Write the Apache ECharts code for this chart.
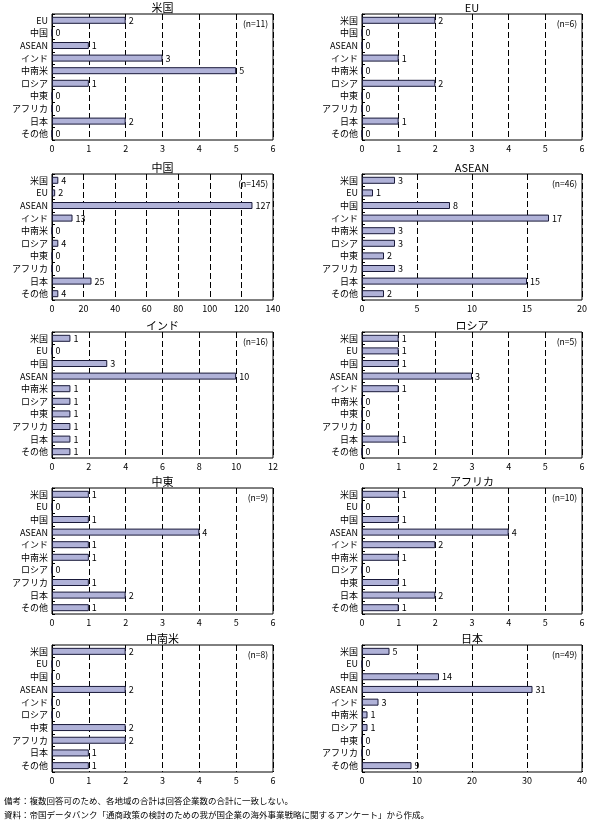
<!DOCTYPE html>
<html><head><meta charset="utf-8">
<script src="https://cdn.jsdelivr.net/npm/echarts@6/dist/echarts.min.js"></script>
<style>html,body{margin:0;padding:0;background:#fff}#c{width:593px;height:821px}</style>
</head><body><div id="c"></div>
<script>
const regions = ['米国','EU','中国','ASEAN','インド','中南米','ロシア','中東','アフリカ','日本','その他'];
const panelTitles = ['米国','EU','中国','ASEAN','インド','ロシア','中東','アフリカ','中南米','日本'];
const panelN = [11,6,145,46,16,5,9,10,8,49];
const axisMax = [6,6,140,20,12,6,6,6,6,40];
const axisStep = [1,1,20,5,2,1,1,1,1,10];
// values in order of regions, excluding the panel's own region
const valsUS     = [2,0,1,3,5,1,0,0,2,0];
const valsEU     = [2,0,0,1,0,2,0,0,1,0];
const valsChina  = [4,2,127,13,0,4,0,0,25,4];
const valsASEAN  = [3,1,8,17,3,3,2,3,15,2];
const valsIndia  = [1,0,3,10,1,1,1,1,1,1];
const valsRussia = [1,1,1,3,1,0,0,0,1,0];
const valsME     = [1,0,1,4,1,1,0,1,2,1];
const valsAfrica = [1,0,1,4,2,1,0,1,2,1];
const valsLatAm  = [2,0,0,2,0,0,2,2,1,1];
const valsJapan  = [5,0,14,31,3,1,1,0,0,9];
const panelVals = [valsUS,valsEU,valsChina,valsASEAN,valsIndia,valsRussia,valsME,valsAfrica,valsLatAm,valsJapan];
const notes = ['備考：複数回答可のため、各地域の合計は回答企業数の合計に一致しない。',
  '資料：帝国データバンク「通商政策の検討のための我が国企業の海外事業戦略に関するアンケート」から作成。'];

const FONT = '"Noto Sans CJK JP", "Noto Sans", sans-serif';
const colLeft = [52, 362], colWidth = [221, 220];
const rowTop = [14, 174, 332, 488, 645], rowH = [126, 126, 126, 126, 127];

const grids = [], xAxes = [], yAxes = [], series = [], graphics = [];
panelTitles.forEach((t, i) => {
  const col = i % 2, row = Math.floor(i / 2);
  const L = colLeft[col], W = colWidth[col], T = rowTop[row], H = rowH[row];
  const cats = regions.filter(r => r !== t);
  grids.push({left: L, top: T, width: W, height: H, show: true, borderColor: '#000', borderWidth: 1, backgroundColor: 'transparent'});
  xAxes.push({type: 'value', gridIndex: i, min: 0, max: axisMax[i], interval: axisStep[i],
    axisLine: {show: false}, axisTick: {show: false},
    axisLabel: {color: '#000', fontSize: 9, fontFamily: FONT, margin: 4},
    splitLine: {show: true, lineStyle: {color: '#000', type: [6, 3], width: 1}}});
  yAxes.push({type: 'category', gridIndex: i, data: cats, inverse: true,
    axisLine: {show: true, lineStyle: {color: '#000', width: 1}},
    axisTick: {show: true, inside: true, length: 3, lineStyle: {color: '#000'}},
    axisLabel: {color: '#000', fontSize: 9, fontFamily: FONT, margin: 4}});
  series.push({type: 'bar', xAxisIndex: i, yAxisIndex: i, data: panelVals[i], barWidth: 7,
    itemStyle: {color: '#b0b2d8', borderColor: '#1a1a3a', borderWidth: 1},
    label: {show: true, position: 'right', distance: 3, color: '#000', fontSize: 9, fontFamily: FONT},
    silent: true, animation: false});
  graphics.push({type: 'text', x: L + W / 2, y: T - 6, style: {text: t, align: 'center', verticalAlign: 'middle', fontSize: 11, fontFamily: FONT, fill: '#000'}});
  graphics.push({type: 'text', x: L + W - 5, y: T + 10, style: {text: '(n=' + panelN[i] + ')', align: 'right', verticalAlign: 'middle', fontSize: 8.5, fontFamily: FONT, fill: '#000'}});
});
notes.forEach((n, k) => {
  graphics.push({type: 'text', x: 4, y: 801 + k * 14, style: {text: n, align: 'left', verticalAlign: 'middle', fontSize: 8.5, fontFamily: FONT, fill: '#000'}});
});

const chart = echarts.init(document.getElementById('c'), null, {renderer: 'canvas'});
chart.setOption({animation: false, grid: grids, xAxis: xAxes, yAxis: yAxes, series: series, graphic: graphics});
</script></body></html>
